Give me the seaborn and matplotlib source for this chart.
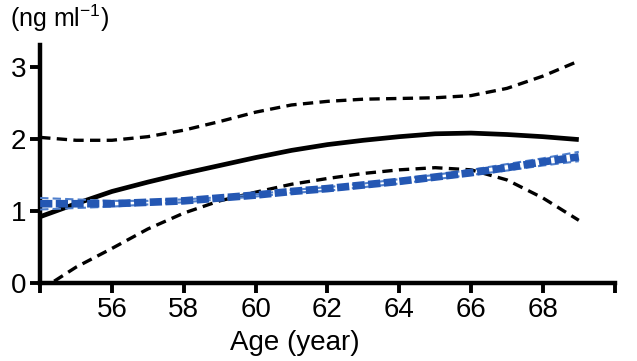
import numpy as np
import pandas as pd
import matplotlib
matplotlib.use("Agg")
import matplotlib.pyplot as plt
import seaborn as sns

age = [54, 55, 56, 57, 58, 59, 60, 61, 62, 63, 64, 65, 66, 67, 68, 69]
black_fit = [0.92, 1.10, 1.27, 1.40, 1.52, 1.63, 1.74, 1.84, 1.92, 1.98, 2.03, 2.07, 2.08, 2.06, 2.03, 1.99]
black_upper = [2.02, 1.98, 1.98, 2.03, 2.12, 2.24, 2.37, 2.47, 2.52, 2.55, 2.56, 2.57, 2.60, 2.70, 2.87, 3.08]
black_lower = [-0.10, 0.22, 0.48, 0.75, 0.97, 1.14, 1.26, 1.37, 1.45, 1.52, 1.57, 1.60, 1.57, 1.43, 1.18, 0.87]
blue_fit = [1.10, 1.10, 1.10, 1.12, 1.14, 1.18, 1.22, 1.27, 1.31, 1.36, 1.41, 1.47, 1.53, 1.60, 1.68, 1.75]
blue_upper = [1.18, 1.16, 1.14, 1.14, 1.16, 1.19, 1.23, 1.29, 1.33, 1.38, 1.44, 1.50, 1.57, 1.65, 1.73, 1.82]
blue_lower = [1.02, 1.04, 1.06, 1.09, 1.12, 1.16, 1.20, 1.25, 1.28, 1.33, 1.38, 1.44, 1.50, 1.56, 1.63, 1.69]

x_ticks = [54, 56, 58, 60, 62, 64, 66, 68, 70]
x_ticklabels = ["", "56", "58", "60", "62", "64", "66", "68", ""]
y_ticks = [0, 1, 2, 3]

sns.set_theme(style="ticks")
plt.rcParams["font.family"] = ["Liberation Sans", "DejaVu Sans"]
plt.rcParams["mathtext.default"] = "regular"
plt.rcParams["text.color"] = "black"
plt.rcParams["xtick.color"] = "black"
plt.rcParams["ytick.color"] = "black"

fig = plt.figure(figsize=(6.37, 3.61), dpi=100)
ax = fig.add_axes([0.063, 0.216, 0.902, 0.659])

BLUE = "#2457b3"
BLUE_LIGHT = "#4f7fcc"

def draw(y, color, lw, dashes=None, z=2):
    sns.lineplot(x=age, y=y, ax=ax, color=color, lw=lw, zorder=z, solid_capstyle="butt")
    line = ax.lines[-1]
    if dashes is not None:
        line.set_dashes(dashes)
        line.set_dash_capstyle("butt")
    return line

draw(black_fit, "black", 3.4)
draw(black_upper, "black", 2.4, (3.1, 1.9))
draw(black_lower, "black", 2.4, (3.1, 1.9))
draw(blue_upper, BLUE_LIGHT, 1.5, (4, 2), z=3)
draw(blue_lower, BLUE_LIGHT, 1.5, (4, 2), z=3)
draw(blue_fit, BLUE, 5.5, (1.6, 0.45), z=4)

ax.set_xlim(54, 70)
ax.set_ylim(0, 3.3)
ax.set_xticks(x_ticks)
ax.set_xticklabels(x_ticklabels)
ax.set_yticks(y_ticks)
ax.tick_params(axis="both", labelsize=20, width=2.8, length=7, color="black",
               labelcolor="black", pad=3)
for s in ["left", "bottom"]:
    ax.spines[s].set_linewidth(3.2)
    ax.spines[s].set_color("black")
sns.despine(ax=ax)
ax.set_xlabel("")
ax.set_ylabel("")
fig.text(295 / 637, 1 - 350 / 361, "Age (year)", fontsize=20, ha="center",
         va="baseline", color="black")
fig.text(0.015, 0.925, "(ng ml$^{-1}$)", fontsize=18, ha="left", va="baseline",
         color="black")

fig.savefig("out.png", dpi=100)
